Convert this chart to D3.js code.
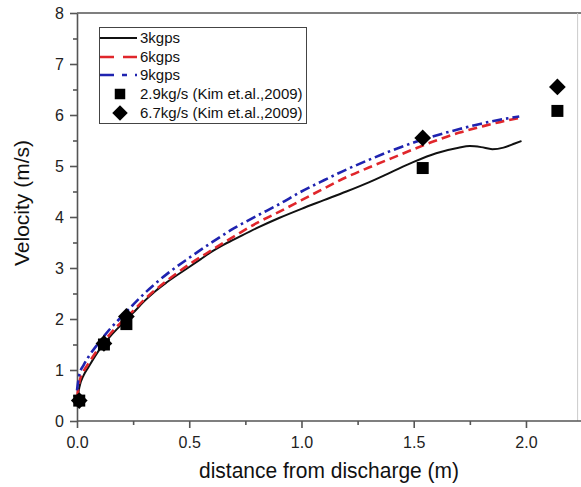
<!DOCTYPE html>
<html>
<head>
<meta charset="utf-8">
<script src="https://cdn.jsdelivr.net/npm/d3@7"></script>
<style>
  body { margin: 0; background: #fff; }
  svg { font-family: "Liberation Sans", Arial, sans-serif; }
  .axis path, .axis line { stroke: #555; stroke-width: 1.6; }
  .axis text { fill: #222; font-size: 16px; }
</style>
</head>
<body>
<div id="chart"></div>
<script>
// datos
var dist3 = [0, 0.01, 0.03, 0.05, 0.1, 0.15, 0.2, 0.25, 0.3, 0.35, 0.4, 0.5, 0.55, 0.6, 0.65, 0.7, 0.8, 0.9, 1.0, 1.1, 1.2, 1.3, 1.4, 1.5, 1.6, 1.7, 1.75, 1.8, 1.85, 1.9, 1.95, 1.98];
var vel3  = [0.35, 0.65, 0.9, 1.05, 1.4, 1.67, 1.9, 2.12, 2.35, 2.55, 2.72, 3.02, 3.17, 3.32, 3.45, 3.56, 3.78, 3.98, 4.16, 4.33, 4.5, 4.68, 4.88, 5.08, 5.25, 5.36, 5.39, 5.37, 5.33, 5.36, 5.44, 5.49];

var dist6 = [0, 0.01, 0.03, 0.05, 0.1, 0.15, 0.2, 0.25, 0.3, 0.4, 0.5, 0.6, 0.7, 0.8, 0.9, 1.0, 1.1, 1.2, 1.3, 1.4, 1.5, 1.6, 1.7, 1.8, 1.9, 1.98];
var vel6  = [0.45, 0.75, 0.98, 1.12, 1.45, 1.72, 1.95, 2.16, 2.38, 2.75, 3.07, 3.35, 3.62, 3.88, 4.1, 4.33, 4.56, 4.78, 4.97, 5.15, 5.33, 5.5, 5.65, 5.77, 5.88, 5.95];

var dist9 = [0, 0.01, 0.03, 0.05, 0.1, 0.15, 0.2, 0.25, 0.3, 0.4, 0.5, 0.6, 0.7, 0.8, 0.9, 1.0, 1.1, 1.2, 1.3, 1.4, 1.5, 1.6, 1.7, 1.8, 1.9, 1.97];
var vel9  = [0.6, 0.9, 1.1, 1.25, 1.55, 1.82, 2.05, 2.28, 2.5, 2.88, 3.2, 3.5, 3.78, 4.02, 4.25, 4.5, 4.72, 4.93, 5.12, 5.3, 5.46, 5.6, 5.72, 5.83, 5.92, 5.97];

// medidas de Kim et.al. 2009
var kimDist = [0.01, 0.12, 0.22, 1.54, 2.14];
var kim29   = [0.4, 1.5, 1.9, 4.96, 6.08];
var kim67   = [0.4, 1.52, 2.05, 5.55, 6.55];

var xTicks = [0, 0.5, 1.0, 1.5, 2.0];
var yTicks = [0, 1, 2, 3, 4, 5, 6, 7, 8];

var W = 581, H = 487;
var margin = {left: 77, right: 577.6, top: 13, bottom: 421};

var svg = d3.select("#chart").append("svg")
    .attr("width", W)
    .attr("height", H);

var xScale = d3.scaleLinear().domain([0, 2.23]).range([margin.left, margin.right]);
var yScale = d3.scaleLinear().domain([0, 8]).range([margin.bottom, margin.top]);

// marco superior y derecho
svg.append("line")
    .attr("x1", margin.left).attr("x2", W)
    .attr("y1", margin.top).attr("y2", margin.top)
    .attr("stroke", "#555").attr("stroke-width", 1.6);
svg.append("line")
    .attr("x1", margin.right).attr("x2", margin.right)
    .attr("y1", margin.top).attr("y2", margin.bottom)
    .attr("stroke", "#ccc").attr("stroke-width", 1);

// ticks menores
var xMinor = d3.range(0.25, 2.26, 0.5);
var yMinor = d3.range(0.5, 8, 1);

svg.append("g")
    .attr("class", "axis")
    .attr("transform", "translate(0," + margin.bottom + ")")
    .call(d3.axisBottom(xScale).tickValues(xMinor).tickSize(4).tickFormat(""))
    .select(".domain").remove();
svg.append("g")
    .attr("class", "axis")
    .attr("transform", "translate(" + margin.left + ",0)")
    .call(d3.axisLeft(yScale).tickValues(yMinor).tickSize(4).tickFormat(""))
    .select(".domain").remove();

// ejes principales
var xAxis = svg.append("g")
    .attr("class", "axis")
    .attr("transform", "translate(0," + margin.bottom + ")")
    .call(d3.axisBottom(xScale).tickValues(xTicks).tickSize(7).tickSizeOuter(0)
        .tickFormat(d3.format(".1f")));
xAxis.select(".domain").attr("d", "M" + margin.left + ",0H" + W);
xAxis.selectAll("text").attr("dy", 0).attr("y", 27);

var yAxis = svg.append("g")
    .attr("class", "axis")
    .attr("transform", "translate(" + margin.left + ",0)")
    .call(d3.axisLeft(yScale).tickValues(yTicks).tickSize(7).tickSizeOuter(0));
yAxis.selectAll("text").attr("x", -13);

// titulos
svg.append("text")
    .text("distance from discharge (m)")
    .attr("x", 329).attr("y", 478)
    .attr("text-anchor", "middle")
    .attr("font-size", 22)
    .attr("textLength", 260)
    .attr("lengthAdjust", "spacingAndGlyphs")
    .attr("fill", "#111");
svg.append("text")
    .text("Velocity (m/s)")
    .attr("transform", "translate(29,203) rotate(-90)")
    .attr("text-anchor", "middle")
    .attr("font-size", 21)
    .attr("fill", "#111");

// curvas
var line = d3.line()
    .x(function(d){ return xScale(d[0]); })
    .y(function(d){ return yScale(d[1]); })
    .curve(d3.curveMonotoneX);

var series = [
    {name: "3kgps", x: dist3, y: vel3, color: "#111", dash: null, width: 2},
    {name: "6kgps", x: dist6, y: vel6, color: "#e0262b", dash: "9,5", width: 2.6},
    {name: "9kgps", x: dist9, y: vel9, color: "#1f23b0", dash: "10,4,2.5,4", width: 2.6}
];

series.forEach(function(s){
    svg.append("path")
        .datum(d3.zip(s.x, s.y))
        .attr("d", line)
        .attr("fill", "none")
        .attr("stroke", s.color)
        .attr("stroke-width", s.width)
        .attr("stroke-dasharray", s.dash);
});

// puntos
var square = d3.symbol().type(d3.symbolSquare).size(144);
var diamond = d3.symbol().type(d3.symbolSquare).size(140);

svg.selectAll(".sq")
    .data(d3.zip(kimDist, kim29))
    .enter().append("path")
    .attr("class", "sq")
    .attr("d", square)
    .attr("transform", function(d){ return "translate(" + xScale(d[0]) + "," + yScale(d[1]) + ")"; })
    .attr("fill", "#000");

svg.selectAll(".dm")
    .data(d3.zip(kimDist, kim67))
    .enter().append("path")
    .attr("class", "dm")
    .attr("d", diamond)
    .attr("transform", function(d){ return "translate(" + xScale(d[0]) + "," + yScale(d[1]) + ") rotate(45)"; })
    .attr("fill", "#000");

// leyenda
var legend = svg.append("g");
legend.append("rect")
    .attr("x", 99.5).attr("y", 27.5)
    .attr("width", 207).attr("height", 96)
    .attr("fill", "#fff")
    .attr("stroke", "#444").attr("stroke-width", 1);

var rowY = [38, 57, 75, 94, 113];
var labels = ["3kgps", "6kgps", "9kgps", "2.9kg/s (Kim et.al.,2009)", "6.7kg/s (Kim et.al.,2009)"];

series.forEach(function(s, i){
    legend.append("line")
        .attr("x1", 100).attr("x2", 137)
        .attr("y1", rowY[i]).attr("y2", rowY[i])
        .attr("stroke", s.color)
        .attr("stroke-width", s.width)
        .attr("stroke-dasharray", i == 1 ? "14,9" : (i == 2 ? "14,8,5,8" : null));
});
legend.append("path")
    .attr("d", d3.symbol().type(d3.symbolSquare).size(110))
    .attr("transform", "translate(120," + rowY[3] + ")");
legend.append("path")
    .attr("d", d3.symbol().type(d3.symbolSquare).size(120))
    .attr("transform", "translate(120," + rowY[4] + ") rotate(45)");

legend.selectAll(".lab")
    .data(labels)
    .enter().append("text")
    .attr("class", "lab")
    .text(function(d){ return d; })
    .attr("x", 140)
    .attr("y", function(d, i){ return rowY[i] + 5; })
    .attr("font-size", 15)
    .attr("fill", "#111");
</script>
</body>
</html>
